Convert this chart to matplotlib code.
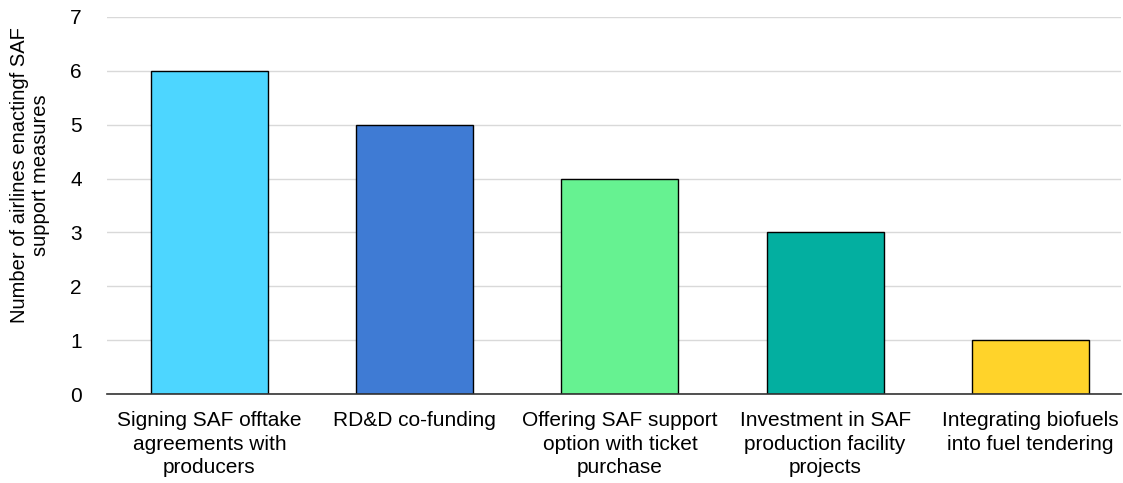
import numpy as np
import matplotlib
matplotlib.use('Agg')
import matplotlib.pyplot as plt

plt.rcParams['font.family'] = ['Liberation Sans', 'DejaVu Sans']

categories = ['Signing SAF offtake\nagreements with\nproducers',
              'RD&D co-funding',
              'Offering SAF support\noption with ticket\npurchase',
              'Investment in SAF\nproduction facility\nprojects',
              'Integrating biofuels\ninto fuel tendering']
counts = [6, 5, 4, 3, 1]
colors = ['#4DD6FF', '#3F7BD4', '#66F291', '#03AFA0', '#FFD32A']

fig = plt.figure(figsize=(11.23, 4.83), dpi=100)
ax = fig.add_axes([0.095, 0.184, 0.903, 0.781])

x = np.arange(len(categories))
ax.bar(x, counts, width=0.57, color=colors, edgecolor='black', linewidth=1, zorder=3)

ax.set_xlim(-0.5, 4.44)
ax.set_ylim(0, 7)
ax.set_yticks(range(0, 8))
ax.yaxis.grid(True, color='#d9d9d9', linewidth=1, zorder=0)
ax.set_xticks(x)
ax.set_xticklabels(categories, fontsize=15, linespacing=1.32)
ax.tick_params(axis='y', length=0, labelsize=15, pad=18)
ax.tick_params(axis='x', length=0, pad=12)
for s in ['top', 'right', 'left']:
    ax.spines[s].set_visible(False)
ax.spines['bottom'].set_color('#333333')
ax.spines['bottom'].set_linewidth(1.2)
ax.spines['bottom'].set_zorder(4)

ax.set_ylabel('Number of airlines enactingf SAF\nsupport measures', fontsize=14.5,
              linespacing=1.1)
ax.yaxis.set_label_coords(-0.056, 0.58)

fig.savefig('out.png', dpi=100)
